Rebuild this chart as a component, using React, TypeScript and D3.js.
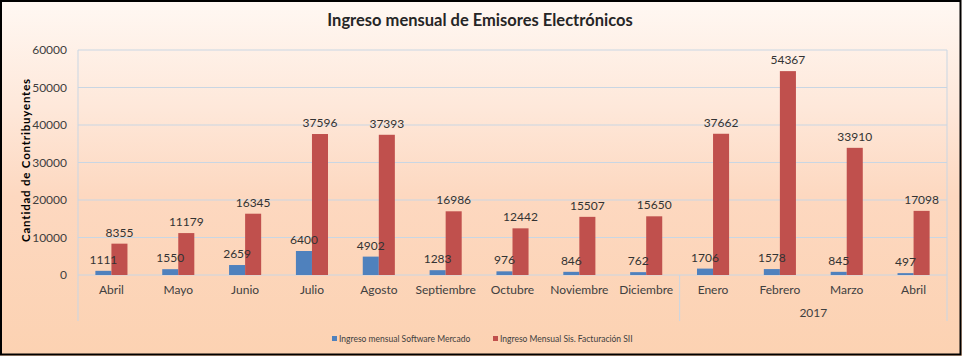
import React from "react";
import * as d3 from "d3";

const months = ["Abril","Mayo","Junio","Julio","Agosto","Septiembre","Octubre","Noviembre","Diciembre","Enero","Febrero","Marzo","Abril"];
const softwareMercado = [1111,1550,2659,6400,4902,1283,976,846,762,1706,1578,845,497];
const facturacionSII = [8355,11179,16345,37596,37393,16986,12442,15507,15650,37662,54367,33910,17098];
const yTicks = [0,10000,20000,30000,40000,50000,60000];
const seriesNames = ["Ingreso mensual Software Mercado","Ingreso Mensual Sis. Facturación SII"];
const seriesColors = ["#4F81BD","#C0504D"];
const yearLabel = "2017";
const yearStartIndex = 9;

const W = 962, H = 356;
const left = 78, right = 947, top = 50, bottom = 275, axisExt = 321;
const font = "Lato, 'Open Sans', sans-serif";

export default function App() {
  const idx = months.map((_, i) => String(i));
  const x0 = d3.scaleBand<string>().domain(idx).range([left, right]).paddingInner(0.52).paddingOuter(0.26);
  const x1 = d3.scaleBand<string>().domain(["a","b"]).range([0, x0.bandwidth()]);
  const y = d3.scaleLinear().domain([0, 60000]).range([bottom, top]);
  const step = x0.step();
  const catCenter = (i: number) => (x0(String(i)) as number) + x0.bandwidth() / 2;
  const sepX = catCenter(yearStartIndex) - step / 2;
  const series = [softwareMercado, facturacionSII];
  const grid = "#C9D6E3";
  const barX = (i: number, k: number) => (x0(String(i)) as number) + (x1(k === 0 ? "a" : "b") as number);

  return (
    <svg width={W} height={H} style={{ position: "absolute", left: 0, top: 0, display: "block" }}>
      <defs>
        <linearGradient id="bg" x1="0" y1="0" x2="0" y2="1">
          <stop offset="0%" stopColor="#FFF8F3" />
          <stop offset="30%" stopColor="#FEE8DA" />
          <stop offset="55%" stopColor="#FDD8C0" />
          <stop offset="100%" stopColor="#FCD2B2" />
        </linearGradient>
      </defs>
      <rect x={0} y={0} width={W} height={H} fill="url(#bg)" />
      <rect x={1} y={1} width={W - 2.5} height={H - 2.5} fill="none" stroke="#000" strokeWidth={2} />

      <text x={480} y={26} textAnchor="middle" fontFamily={font} fontWeight="bold" fontSize={16.5} fill="#262626">
        Ingreso mensual de Emisores Electrónicos
      </text>

      {yTicks.map(t => (
        <g key={t}>
          <line x1={left} x2={right} y1={y(t)} y2={y(t)} stroke={grid} strokeWidth={1} />
          <text x={67} y={y(t) + 4} textAnchor="end" fontFamily={font} fontSize={12} fill="#404040">{t}</text>
        </g>
      ))}
      <line x1={left} x2={left} y1={top} y2={axisExt} stroke={grid} />
      <line x1={right} x2={right} y1={top} y2={axisExt} stroke={grid} />
      <line x1={sepX} x2={sepX} y1={bottom} y2={axisExt} stroke={grid} />

      <text transform={`translate(30,160) rotate(-90)`} textAnchor="middle" fontFamily={font} fontWeight="bold" fontSize={11.5} letterSpacing={0.8} fill="#000">
        Cantidad de Contribuyentes
      </text>

      {months.map((m, i) => (
        <g key={"b" + i}>
          {series.map((s, k) => (
            <rect key={k} x={barX(i, k)} y={y(s[i])} width={x1.bandwidth()} height={bottom - y(s[i])} fill={seriesColors[k]} />
          ))}
        </g>
      ))}
      {months.map((m, i) => (
        <g key={"l" + i}>
          {series.map((s, k) => (
            <text key={k} x={barX(i, k) + x1.bandwidth() / 2} y={y(s[i]) - 7} textAnchor="middle" fontFamily={font} fontSize={12} fill="#333">{s[i]}</text>
          ))}
          <text x={catCenter(i)} y={294} textAnchor="middle" fontFamily={font} fontSize={12} fill="#404040">{m}</text>
        </g>
      ))}
      <text x={(sepX + right) / 2} y={317} textAnchor="middle" fontFamily={font} fontSize={12} fill="#404040">{yearLabel}</text>

      <g fontFamily={font} fontSize={8.5} fill="#404040">
        <rect x={332} y={336} width={5} height={5} fill={seriesColors[0]} />
        <text x={339} y={341.5}>{seriesNames[0]}</text>
        <rect x={493} y={336} width={5} height={5} fill={seriesColors[1]} />
        <text x={500} y={341.5}>{seriesNames[1]}</text>
      </g>
    </svg>
  );
}
